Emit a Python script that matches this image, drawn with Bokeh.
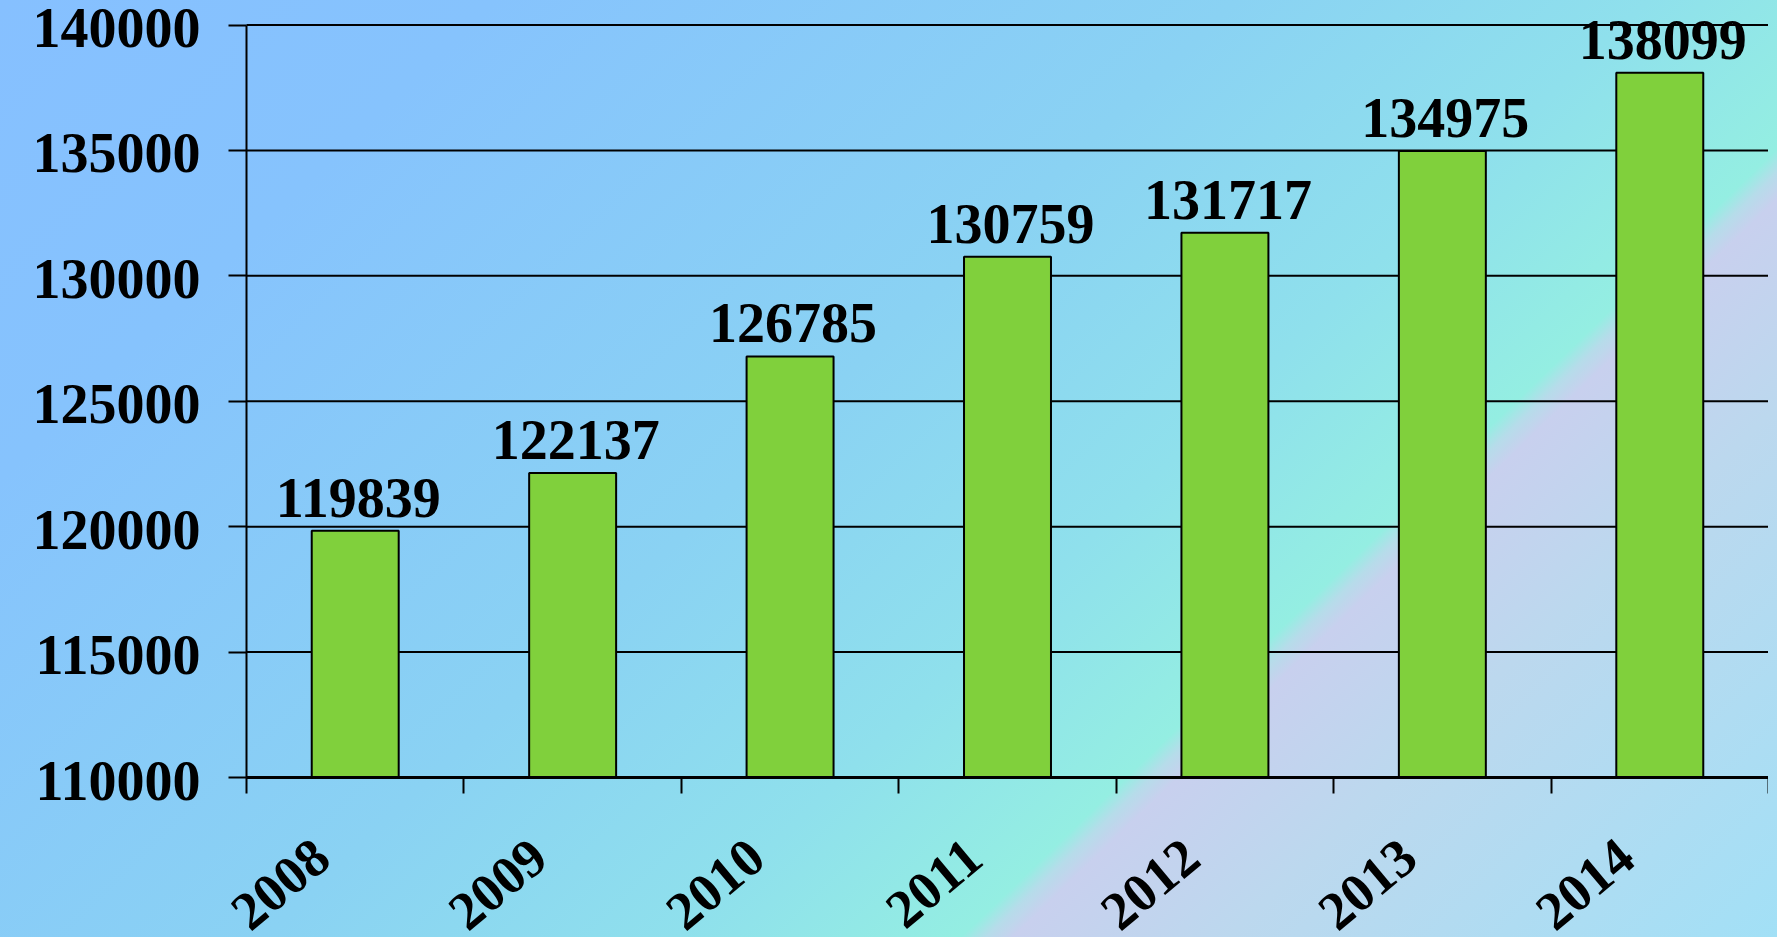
import math
from bokeh.plotting import figure
from bokeh.models import (Range1d, FixedTicker, LabelSet,
                          ColumnDataSource, GlobalInlineStyleSheet)
from bokeh.embed import file_html
from bokeh.resources import INLINE

# ---- data ----
years = ["2008", "2009", "2010", "2011", "2012", "2013", "2014"]
values = [119839, 122137, 126785, 130759, 131717, 134975, 138099]
y_ticks = [110000, 115000, 120000, 125000, 130000, 135000, 140000]
y_tick_labels = ["110000", "115000", "120000", "125000", "130000", "135000", "140000"]
y_min, y_max = 110000, 140000

n = len(years)
xs = [i + 0.5 for i in range(n)]
src = ColumnDataSource(dict(x=xs, top=values, label=[str(v) for v in values],
                            year=years, base=[y_min] * n))
tick_src = ColumnDataSource(dict(y=y_ticks, text=y_tick_labels,
                                 x0=[0] * len(y_ticks), x1=[n] * len(y_ticks)))

FONT = "Liberation Serif"
FS = "56px"

# layout (pixels)
W, H = 1768, 937
AXIS_X = 246              # value axis position
TOP_PX, BOT_PX = 24.5, 777
ppu = (BOT_PX - TOP_PX) / (y_max - y_min)
ppx = (W - AXIS_X) / n
xr = Range1d(-AXIS_X / ppx, n)
yr = Range1d(y_min - (H - BOT_PX) / ppu, y_max + TOP_PX / ppu)

p = figure(width=W, height=H, output_backend="svg", toolbar_location=None,
           x_range=xr, y_range=yr,
           min_border_left=0, min_border_right=0, min_border_top=0,
           min_border_bottom=0)

p.background_fill_alpha = 0
p.border_fill_alpha = 0
p.outline_line_color = None
p.xgrid.visible = False
p.ygrid.visible = False

p.stylesheets = [GlobalInlineStyleSheet(css=(
    "html,body{margin:0;overflow:hidden;}"
    "body{background:transparent;}"
    "html{min-height:100%;background:linear-gradient(136deg,"
    "#86c0ff 0%,#86c3fd 18%,#8ad2f3 45%,#8fe0ec 60%,#94eee2 70.3%,"
    "#b6dcea 71.2%,#c8d0ee 72.2%,#bcd8ee 80%,#a2e0f6 100%) fixed;}"))]

# horizontal grid lines at the value ticks (from the axis to the right edge)
p.segment(x0="x0", x1="x1", y0="y", y1="y", source=tick_src,
          line_color="black", line_width=2)

p.vbar(x="x", top="top", bottom=y_min, width=0.4, source=src,
       fill_color="#80d03c", line_color="black", line_width=2)

labels = LabelSet(x="x", y="top", text="label", source=src,
                  text_align="center", text_baseline="alphabetic",
                  y_offset=14, x_offset=3,
                  text_font=FONT, text_font_style="bold",
                  text_font_size=FS, text_color="black")
p.add_layout(labels)

year_labels = LabelSet(x="x", y="base", text="year", source=src,
                       angle=math.radians(40), text_align="right", text_baseline="top",
                       x_offset=-45, y_offset=-58,
                       text_font=FONT, text_font_style="bold",
                       text_font_size="54px", text_color="black")
p.add_layout(year_labels)

y_labels = LabelSet(x="x0", y="y", text="text", source=tick_src,
                    text_align="right", text_baseline="middle",
                    x_offset=-46, y_offset=-3,
                    text_font=FONT, text_font_style="bold",
                    text_font_size=FS, text_color="black")
p.add_layout(y_labels)

# y axis, drawn at x = 0; tick marks only (labels drawn by y_labels)
p.yaxis.fixed_location = 0
p.yaxis.ticker = FixedTicker(ticks=[], minor_ticks=y_ticks)
p.yaxis.bounds = (y_min, y_max)
p.yaxis.major_tick_line_color = None
p.yaxis.minor_tick_out = 18
p.yaxis.minor_tick_in = 0
p.yaxis.minor_tick_line_width = 2
p.yaxis.minor_tick_line_color = "black"
p.yaxis.axis_line_width = 2
p.yaxis.axis_line_color = "black"

# x axis: drawn at y_min, ticks between categories
p.xaxis.fixed_location = y_min
p.xaxis.bounds = (0, n)
p.xaxis.ticker = FixedTicker(ticks=[], minor_ticks=list(range(n + 1)))
p.xaxis.major_tick_line_color = None
p.xaxis.minor_tick_out = 16
p.xaxis.minor_tick_in = 0
p.xaxis.minor_tick_line_width = 2
p.xaxis.minor_tick_line_color = "black"
p.xaxis.axis_line_width = 3
p.xaxis.axis_line_color = "black"

open("out.html", "w").write(file_html(p, INLINE))
